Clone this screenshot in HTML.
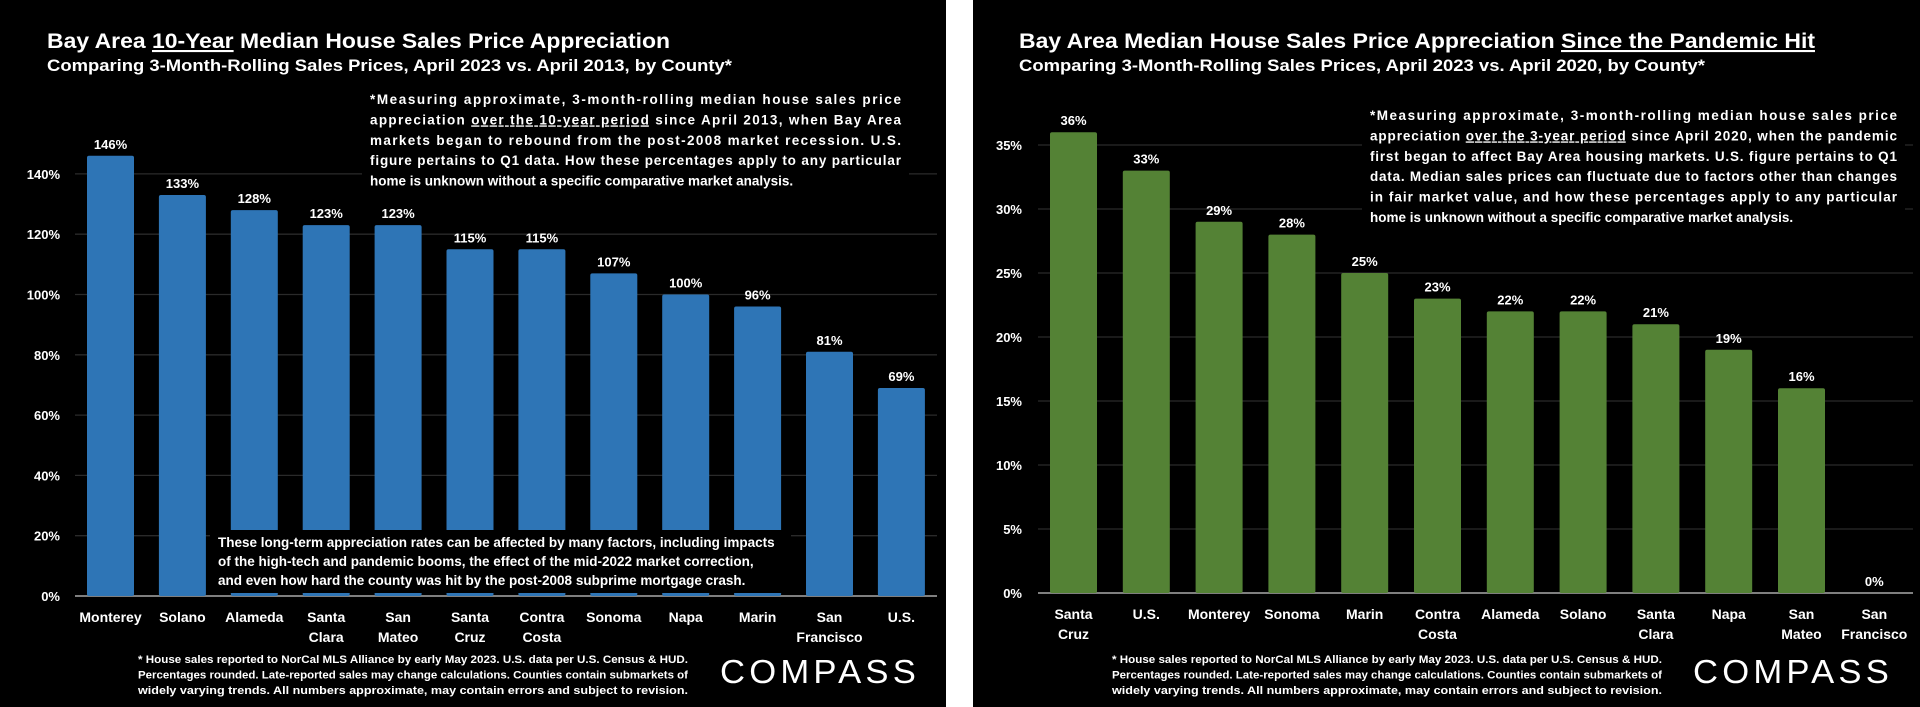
<!DOCTYPE html>
<html><head><meta charset="utf-8"><style>
html,body{margin:0;padding:0;background:#fff;}
svg{display:block;}
text{font-family:"Liberation Sans",sans-serif;fill:#fff;font-weight:bold;}
</style></head><body>
<svg id="s" width="1920" height="707" viewBox="0 0 1920 707">
<rect x="0" y="0" width="946" height="707" fill="#000"/>
<rect x="973" y="0" width="947" height="707" fill="#000"/>
<g id="L"></g><g id="R"></g>
<text x="47" y="48" font-size="21" textLength="623" lengthAdjust="spacingAndGlyphs">Bay Area <tspan text-decoration="underline">10-Year</tspan> Median House Sales Price Appreciation</text>
<text x="47" y="71" font-size="17" textLength="685" lengthAdjust="spacingAndGlyphs">Comparing 3-Month-Rolling Sales Prices, April 2023 vs. April 2013, by County*</text>
<text x="1019" y="48" font-size="21" textLength="796" lengthAdjust="spacingAndGlyphs">Bay Area Median House Sales Price Appreciation <tspan text-decoration="underline">Since the Pandemic Hit</tspan></text>
<text x="1019" y="71" font-size="17" textLength="686" lengthAdjust="spacingAndGlyphs">Comparing 3-Month-Rolling Sales Prices, April 2023 vs. April 2020, by County*</text>
</svg>
<script>
const leftCats=[["Monterey"],["Solano"],["Alameda"],["Santa","Clara"],["San","Mateo"],["Santa","Cruz"],["Contra","Costa"],["Sonoma"],["Napa"],["Marin"],["San","Francisco"],["U.S."]];
const leftVals=[146,133,128,123,123,115,115,107,100,96,81,69];
const leftTicks=[0,20,40,60,80,100,120,140];
const rightCats=[["Santa","Cruz"],["U.S."],["Monterey"],["Sonoma"],["Marin"],["Contra","Costa"],["Alameda"],["Solano"],["Santa","Clara"],["Napa"],["San","Mateo"],["San","Francisco"]];
const rightVals=[36,33,29,28,25,23,22,22,21,19,16,0];
const rightTicks=[0,5,10,15,20,25,30,35];
const NS="http://www.w3.org/2000/svg";
function mk(p,tag,a){const e=document.createElementNS(NS,tag);for(const k in a)e.setAttribute(k,a[k]);p.appendChild(e);return e;}
function chart(g,cats,vals,ticks,o){
  const y=v=>o.y0-v*o.k;
  const cx=i=>o.c0+i*o.pitch;
  ticks.forEach(t=>{
    const l=mk(g,'line',{x1:o.gx1,x2:o.gx2,y1:y(t),y2:y(t),stroke:t===0?'#7f7f7f':'#2a2a2a','stroke-width':t===0?2:1.3});
    
    
    const tx=mk(g,'text',{x:o.tx,y:y(t)+5,'font-size':13,'text-anchor':'end'});
    tx.textContent=t+'%';
    
    
  });
  vals.forEach((v,i)=>{
    const h=v*o.k;
    if(h>0){const b=mk(g,'rect',{x:cx(i)-23.5,y:y(v),width:47,height:h,rx:2,fill:o.color});
    
    }
    const lb=mk(g,'text',{x:cx(i),y:y(v)-7,'font-size':13,'text-anchor':'middle'});
    lb.textContent=v+'%';
    
    
    cats[i].forEach((c,j)=>{
      const t=mk(g,'text',{x:cx(i),y:o.ly+j*20,'font-size':14,'text-anchor':'middle'});
      t.textContent=c;
      
      
    });
  });
}
const L=document.getElementById('L'),R=document.getElementById('R');
chart(L,leftCats,leftVals,leftTicks,{y0:596,k:3.015,c0:110.5,pitch:71.9,gx1:75,gx2:937,tx:60,ly:622,color:'#2E75B6'});
chart(R,rightCats,rightVals,rightTicks,{y0:593,k:12.8,c0:1073.5,pitch:72.8,gx1:1038,gx2:1913,tx:1022,ly:619,color:'#548235'});
function para(g,lines,x,w,y0,dy,fs,name){
  mk(g,'rect',{x:x-8,y:y0-dy+2,width:w+16,height:lines.length*dy+6,fill:'#000'});
  lines.forEach((s,i)=>{
    const a={x:x,y:y0+i*dy,'font-size':fs};
    if(s[1])Object.assign(a,{textLength:w,lengthAdjust:'spacing'});
    const t=mk(g,'text',a);
    s[0].split('|').forEach((part,k)=>{
      const ts=mk(t,'tspan',{});
      if(k%2===1)ts.setAttribute('text-decoration','underline');
      ts.textContent=part;
    });
    
    
  });
}
para(L,[["*Measuring approximate, 3-month-rolling median house sales price",1],["appreciation |over the 10-year period| since April 2013, when Bay Area",1],["markets began to rebound from the post-2008 market recession. U.S.",1],["figure pertains to Q1 data. How these percentages apply to any particular",1],["home is unknown without a specific comparative market analysis.",0]],370,531,104,20.4,13.5,'left-annotation');
para(L,[["These long-term appreciation rates can be affected by many factors, including impacts",0],["of the high-tech and pandemic booms, the effect of the mid-2022 market correction,",0],["and even how hard the county was hit by the post-2008 subprime mortgage crash.",0]],218,565,547,19,13.5,'left-bottom-note');
para(R,[["*Measuring approximate, 3-month-rolling median house sales price",1],["appreciation |over the 3-year period| since April 2020, when the pandemic",1],["first began to affect Bay Area housing markets. U.S. figure pertains to Q1",1],["data. Median sales prices can fluctuate due to factors other than changes",1],["in fair market value, and how these percentages apply to any particular",1],["home is unknown without a specific comparative market analysis.",0]],1370,527,120,20.4,13.5,'right-annotation');
function foot(g,x,name){
  ["* House sales reported to NorCal MLS Alliance by early May 2023. U.S. data per U.S. Census & HUD.","Percentages rounded. Late-reported sales may change calculations. Counties contain submarkets of","widely varying trends. All numbers approximate, may contain errors and subject to revision."].forEach((s,i)=>{
    const t=mk(g,'text',{x:x,y:663+i*15.5,'font-size':11,textLength:550,lengthAdjust:'spacingAndGlyphs'});t.textContent=s;
    
    
  });
}
foot(L,138,'left-footnote');foot(R,1112,'right-footnote');
function logo(g,x,name){
  const t=mk(g,'text',{x:x,y:683,'font-size':33,textLength:200,lengthAdjust:'spacingAndGlyphs',style:'font-weight:normal;letter-spacing:4px'});
  t.textContent='COMPASS';
  
  
}
logo(L,720,'left-compass-logo');logo(R,1693,'right-compass-logo');
</script>
</body></html>
